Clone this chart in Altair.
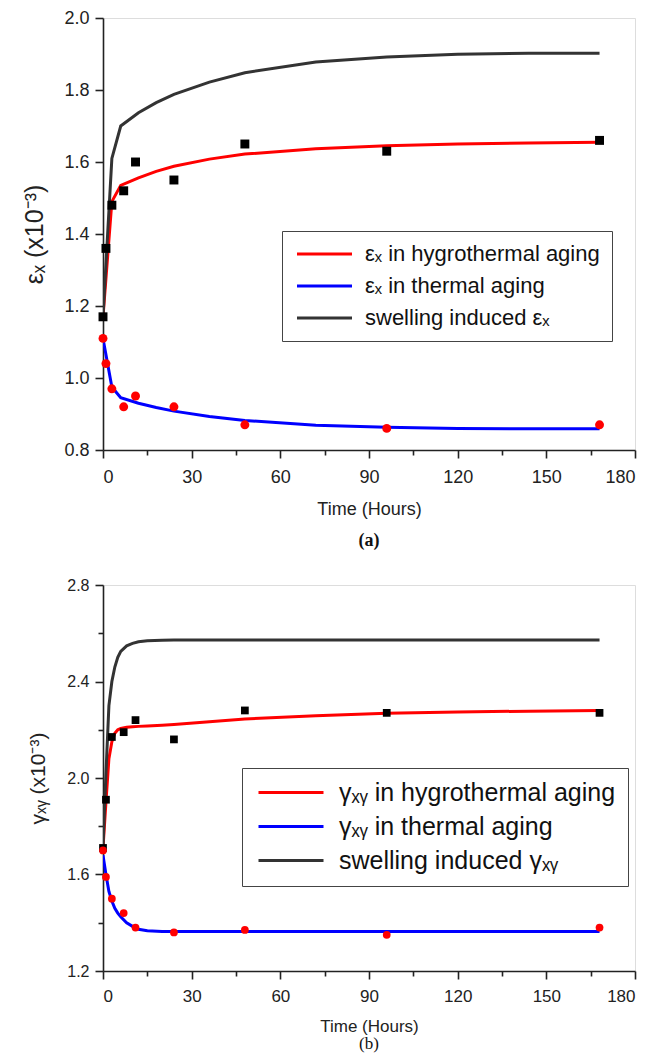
import altair as alt
import pandas as pd

# ---------------- Panel (a): strain eps_x ----------------
a_exp_t = [0, 1, 3, 7, 11, 24, 48, 96, 168]
a_hyg_exp = [1.17, 1.36, 1.48, 1.52, 1.60, 1.55, 1.65, 1.63, 1.66]
a_th_exp = [1.11, 1.04, 0.97, 0.92, 0.95, 0.92, 0.87, 0.86, 0.87]

a_fit_t = [0, 3, 6, 12, 18, 24, 36, 48, 72, 96, 120, 144, 168]
a_hyg_fit = [1.17, 1.49, 1.535, 1.556, 1.574, 1.588, 1.608, 1.622, 1.637, 1.645, 1.650, 1.653, 1.655]
a_th_fit = [1.11, 0.975, 0.945, 0.93, 0.918, 0.908, 0.893, 0.882, 0.869, 0.863, 0.860, 0.859, 0.859]
a_sw_fit = [1.17, 1.61, 1.70, 1.737, 1.765, 1.788, 1.822, 1.848, 1.878, 1.892, 1.899, 1.902, 1.902]

a_labels = ["\u03b5\u2093 in hygrothermal aging", "\u03b5\u2093 in thermal aging", " swelling induced \u03b5\u2093"]

# ---------------- Panel (b): shear strain gamma_xy ----------------
b_exp_t = [0, 1, 3, 7, 11, 24, 48, 96, 168]
b_hyg_exp = [1.71, 1.91, 2.17, 2.19, 2.24, 2.16, 2.28, 2.27, 2.27]
b_th_exp = [1.70, 1.59, 1.50, 1.44, 1.38, 1.36, 1.37, 1.35, 1.38]

b_fit_t = [0, 1, 2, 3, 4, 5, 6, 8, 10, 12, 15, 20, 24, 48, 72, 96, 120, 144, 168]
b_hyg_fit = [1.71, 1.90, 2.08, 2.15, 2.185, 2.20, 2.205, 2.21, 2.212, 2.214, 2.216, 2.219, 2.222,
             2.245, 2.258, 2.268, 2.274, 2.277, 2.28]
b_th_fit = [1.68, 1.60, 1.53, 1.49, 1.46, 1.44, 1.425, 1.40, 1.385, 1.373, 1.367, 1.364, 1.364,
            1.364, 1.364, 1.364, 1.364, 1.364, 1.364]
b_sw_fit = [1.71, 2.02, 2.30, 2.40, 2.46, 2.50, 2.525, 2.548, 2.558, 2.565, 2.569, 2.571, 2.572,
            2.572, 2.572, 2.572, 2.572, 2.572, 2.572]

b_labels = ["\u03b3\u2093\u1d67 in hygrothermal aging", "\u03b3\u2093\u1d67 in thermal aging", " swelling induced \u03b3\u2093\u1d67"]

x_ticks = [0, 15, 30, 45, 60, 75, 90, 105, 120, 135, 150, 165, 180]
a_y_ticks = [0.8, 0.9, 1.0, 1.1, 1.2, 1.3, 1.4, 1.5, 1.6, 1.7, 1.8, 1.9, 2.0]
b_y_ticks = [1.2, 1.4, 1.6, 1.8, 2.0, 2.2, 2.4, 2.6, 2.8]

line_colors = ["#ff0000", "#0000ff", "#333333"]
FONT = "Liberation Sans"
AX = "#222222"


def legend_params(x, y, line_len, gap, fs, rp, pad):
    w = 16.0                       # nominal symbol box (keeps rows compact)
    half = line_len / 2.0
    path = f"M-{half / (w / 2):.4f},0H{half / (w / 2):.4f}"
    return alt.Legend(title=None, orient="none", legendX=x, legendY=y,
                      symbolType=path, symbolSize=w * w, symbolStrokeWidth=3,
                      symbolFillColor="transparent",
                      symbolOffset=half - w / 2, labelOffset=gap + half - w / 2,
                      labelFont=FONT, labelFontSize=fs, labelColor="#111111",
                      labelLimit=600, rowPadding=rp, padding=pad,
                      strokeColor="#444444", fillColor="white", cornerRadius=0)


def panel(fit_t, fits, labels, exp_t, hyg_exp, th_exp, ydom, yticks, ymajor,
          ytitle, fs, w, h, leg, tag, tagbold, tagsize, tagoff, mk):
    rows = []
    for name, vals in zip(labels, fits):
        for t, v in zip(fit_t, vals):
            rows.append({"t": t, "v": v, "series": name})
    lines_df = pd.DataFrame(rows)
    hyg_df = pd.DataFrame({"t": exp_t, "v": hyg_exp})
    th_df = pd.DataFrame({"t": exp_t, "v": th_exp})

    xaxis = alt.Axis(values=x_ticks, title="Time (Hours)", grid=False,
                     labelExpr="datum.value % 30 === 0 ? datum.label : ''",
                     tickSize={"condition": {"test": "datum.value % 30 === 0", "value": 8}, "value": 5},
                     domainColor=AX, tickColor=AX, domainWidth=1.6, tickWidth=1.6,
                     labelFont=FONT, labelFontSize=fs["xl"], labelColor=AX, labelPadding=fs["xlp"],
                     titleFont=FONT, titleFontSize=fs["xt"], titleFontWeight="normal",
                     titleColor=AX, titlePadding=fs["xtp"])
    yaxis = alt.Axis(values=yticks, title=ytitle, grid=False,
                     labelExpr=f"{ymajor} ? format(datum.value, '.1f') : ''",
                     tickSize={"condition": {"test": ymajor, "value": 8}, "value": 5},
                     domainColor=AX, tickColor=AX, domainWidth=1.6, tickWidth=1.6,
                     labelFont=FONT, labelFontSize=fs["yl"], labelColor=AX, labelPadding=6,
                     titleFont=FONT, titleFontSize=fs["yt"], titleFontWeight="normal",
                     titleColor=AX, titlePadding=fs["ytp"])
    xs = alt.Scale(domain=[0, 180], nice=False)
    ys = alt.Scale(domain=ydom, nice=False)

    lines = alt.Chart(lines_df).mark_line(strokeWidth=3, clip=True).encode(
        x=alt.X("t:Q", scale=xs, axis=xaxis),
        y=alt.Y("v:Q", scale=ys, axis=yaxis),
        color=alt.Color("series:N",
                        scale=alt.Scale(domain=labels, range=line_colors),
                        sort=labels, legend=leg),
    )
    sq = alt.Chart(hyg_df).mark_point(shape="square", filled=True, color="#000000",
                                      size=mk, opacity=1).encode(
        x=alt.X("t:Q", scale=xs), y=alt.Y("v:Q", scale=ys))
    ci = alt.Chart(th_df).mark_point(shape="circle", filled=True, color="#ff0000",
                                     size=mk, opacity=1).encode(
        x=alt.X("t:Q", scale=xs), y=alt.Y("v:Q", scale=ys))
    return alt.layer(lines, sq, ci).properties(
        width=w, height=h,
        title=alt.TitleParams(tag, orient="bottom", font="Liberation Serif",
                              fontSize=tagsize, fontWeight="bold" if tagbold else "normal",
                              color="#111111", offset=tagoff),
    )


pa = panel(a_fit_t, [a_hyg_fit, a_th_fit, a_sw_fit], a_labels, a_exp_t, a_hyg_exp, a_th_exp,
           [0.8, 2.0], a_y_ticks, "round(datum.value*10) % 2 === 0",
           "\u03b5\u2093 (x10\u207b\u00b3)",
           {"xl": 18, "xlp": 10, "xt": 18, "xtp": 14, "yl": 18, "yt": 25, "ytp": 16},
           532, 432,
           legend_params(179, 213, 55, 10, 22, 10, 12),
           "(a)", True, 18, 14, 80)

pb = panel(b_fit_t, [b_hyg_fit, b_th_fit, b_sw_fit], b_labels, b_exp_t, b_hyg_exp, b_th_exp,
           [1.2, 2.8], b_y_ticks, "round(datum.value*10) % 4 === 0",
           "\u03b3\u2093\u1d67 (x10\u207b\u00b3)",
           {"xl": 17, "xlp": 9, "xt": 17, "xtp": 14, "yl": 16, "yt": 21, "ytp": 18},
           532, 386,
           legend_params(139, 183, 65, 11, 25, 8, 12),
           "(b)", False, 17, 2, 60)

chart = alt.vconcat(pa, pb, spacing=25).resolve_scale(color="independent").properties(
    padding={"left": 14, "top": 0, "right": 0, "bottom": 0}
).configure_view(stroke="#333333", strokeWidth=1.6).configure(background="white")

chart.save("out.html", embed_options={"renderer": "svg", "actions": False})
